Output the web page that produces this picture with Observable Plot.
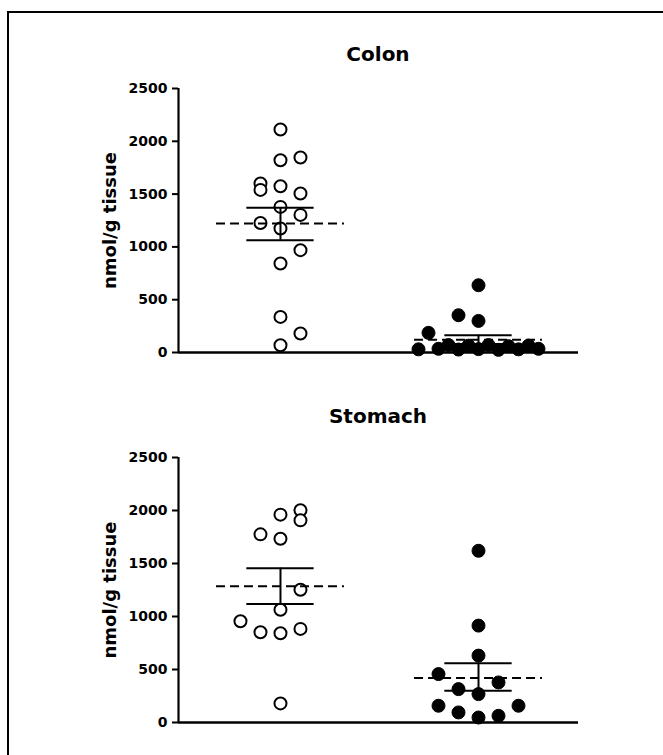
<!DOCTYPE html>
<html><head><meta charset="utf-8">
<script src="https://cdn.jsdelivr.net/npm/d3@7"></script>
<script src="https://cdn.jsdelivr.net/npm/@observablehq/plot@0.6"></script>
<style>
html,body{margin:0;padding:0;background:#fff;overflow:hidden;}
#wrap{position:relative;width:663px;height:755px;overflow:hidden;background:#fff;}
#frameTop{position:absolute;left:7px;top:11px;width:656px;height:2px;background:#000;}
#frameLeft{position:absolute;left:7px;top:11px;width:2px;height:744px;background:#000;}
.panel{position:absolute;left:0;}
.title{position:absolute;left:178px;width:400px;text-align:center;font:bold 20px "DejaVu Sans";line-height:20px;color:#000;}
</style></head>
<body>
<div id="wrap"><div id="frameTop"></div><div id="frameLeft"></div></div>
<script>
// ---- data ----
const panels = ["Colon", "Stomach"];
const groups = ["open", "filled"];
const yTicks = [0, 500, 1000, 1500, 2000, 2500];
const yLabel = "nmol/g tissue";

const colonOpen = [2112, 1821, 1847, 1600, 1540, 1575, 1506, 1379, 1303, 1227, 1174, 969, 843, 337, 180, 69];
const colonOpenCol = [0, 0, 1, -1, -1, 0, 1, 0, 1, -1, 0, 1, 0, 0, 1, 0];
const colonFilled = [637, 353, 299, 186, 30, 35, 28, 32, 25, 30, 35, 70, 65, 70, 60, 65];
const colonFilledCol = [0, -1, 0, -2.5, -3, -2, -1, 0, 1, 2, 3, -1.5, -0.5, 0.5, 1.5, 2.5];

const stomachOpen = [2002, 1961, 1907, 1775, 1734, 1252, 1063, 955, 851, 842, 883, 180];
const stomachOpenCol = [1, 0, 1, -1, 0, 1, 0, -2, -1, 0, 1, 0];
const stomachFilled = [1620, 914, 631, 457, 378, 315, 268, 158, 95, 158, 47, 63];
const stomachFilledCol = [0, 0, 0, -2, 1, -1, 0, -2, -1, 2, 0, 1];

// mean and SEM bounds [open, filled]
const colonMean = [1221, 120];
const colonUpper = [1370, 164];
const colonLower = [1063, 80];
const stomachMean = [1286, 420];
const stomachUpper = [1456, 558];
const stomachLower = [1119, 300];

// ---- layout ----
const STEP = 0.101;      // beeswarm column spacing (x units)
const MEAN_HW = 0.323;   // half width of mean line
const SEM_HW = 0.17;     // half width of SEM caps
const font = "DejaVu Sans";

function buildPlot(openV, openC, filledV, filledC, mean, upper, lower, opts) {
  const pts = [];
  openV.forEach((v, i) => pts.push({g: 1, v, c: openC[i], type: groups[0]}));
  filledV.forEach((v, i) => pts.push({g: 2, v, c: filledC[i], type: groups[1]}));
  const summ = mean.map((m, i) => ({g: i + 1, mean: m, up: upper[i], lo: lower[i]}));
  return Plot.plot({
    width: 663,
    height: opts.height,
    marginLeft: 178,
    marginRight: 85,
    marginTop: opts.top,
    marginBottom: opts.bottom,
    style: {fontFamily: font, fontWeight: "bold", fontSize: "14px", color: "#000", background: "transparent"},
    x: {domain: [0.485, 2.505], axis: null},
    y: {domain: [0, 2500], axis: null},
    marks: [
      Plot.axisY({ticks: yTicks, tickSize: 6, tickPadding: 5, strokeWidth: 2, label: null, tickFormat: d3.format("d"), fill: "#000"}),
      Plot.ruleX([0.485], {y1: 0, y2: 2500, strokeWidth: 2.2, stroke: "#000"}),
      Plot.ruleY([0], {strokeWidth: 2.5, stroke: "#000"}),
      Plot.text([yLabel], {frameAnchor: "left", dx: -68, rotate: -90, fontSize: 18, fontWeight: "bold", textAnchor: "middle", lineAnchor: "middle", fill: "#000"}),
      Plot.dot(pts.filter(d => d.type === "open"), {x: d => d.g + d.c * STEP, y: "v", r: 6, stroke: "#000", strokeWidth: 2, fill: "#fff"}),
      Plot.dot(pts.filter(d => d.type === "filled"), {x: d => d.g + d.c * STEP, y: "v", r: 6.5, stroke: "#000", strokeWidth: 1, fill: "#000"}),
      Plot.ruleY(summ, {x1: d => d.g - MEAN_HW, x2: d => d.g + MEAN_HW, y: "mean", stroke: "#000", strokeWidth: 2, strokeDasharray: "9,5"}),
      Plot.ruleY(summ, {x1: d => d.g - SEM_HW, x2: d => d.g + SEM_HW, y: "up", stroke: "#000", strokeWidth: 2}),
      Plot.ruleY(summ, {x1: d => d.g - SEM_HW, x2: d => d.g + SEM_HW, y: "lo", stroke: "#000", strokeWidth: 2}),
      Plot.ruleX(summ, {x: "g", y1: "lo", y2: "up", stroke: "#000", strokeWidth: 2})
    ]
  });
}

const wrap = document.getElementById("wrap");
const specs = [
  {title: panels[0], top: 0, titleTop: 44, plot: buildPlot(colonOpen, colonOpenCol, colonFilled, colonFilledCol, colonMean, colonUpper, colonLower, {height: 380, top: 88, bottom: 28})},
  {title: panels[1], top: 380, titleTop: 406, plot: buildPlot(stomachOpen, stomachOpenCol, stomachFilled, stomachFilledCol, stomachMean, stomachUpper, stomachLower, {height: 375, top: 77, bottom: 33})}
];
specs.forEach(s => {
  const d = document.createElement("div");
  d.className = "panel";
  d.style.top = s.top + "px";
  d.appendChild(s.plot);
  wrap.appendChild(d);
  const t = document.createElement("div");
  t.className = "title";
  t.style.top = s.titleTop + "px";
  t.textContent = s.title;
  wrap.appendChild(t);
});
</script>
</body></html>
